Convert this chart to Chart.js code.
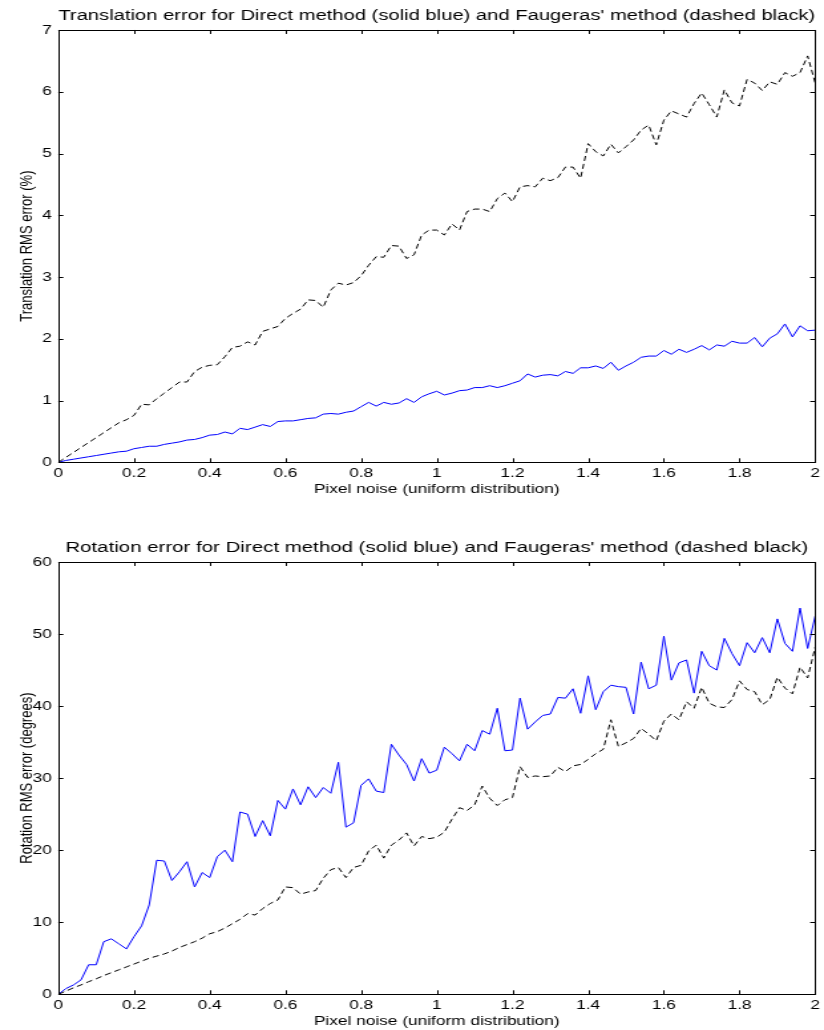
<!DOCTYPE html>
<html>
<head>
<meta charset="utf-8">
<script src="https://cdn.jsdelivr.net/npm/chart.js@4.4.1/dist/chart.umd.min.js"></script>
<style>
body { margin:0; background:#fff; overflow:hidden; width:824px; height:1030px; position:relative; }
.wrap { position:absolute; left:0; width:620px; height:500px; transform:scaleX(1.329); transform-origin:0 0; }
</style>
</head>
<body>
<div class="wrap" style="top:0px"><canvas id="transChart" width="620" height="500"></canvas></div>
<div class="wrap" style="top:532px"><canvas id="rotChart" width="620" height="500"></canvas></div>
<script>
const noise = [0,0.02,0.04,0.06,0.08,0.1,0.12,0.14,0.16,0.18,0.2,0.22,0.24,0.26,0.28,0.3,0.32,0.34,0.36,0.38,
0.4,0.42,0.44,0.46,0.48,0.5,0.52,0.54,0.56,0.58,0.6,0.62,0.64,0.66,0.68,0.7,0.72,0.74,0.76,0.78,
0.8,0.82,0.84,0.86,0.88,0.9,0.92,0.94,0.96,0.98,1,1.02,1.04,1.06,1.08,1.1,1.12,1.14,1.16,1.18,
1.2,1.22,1.24,1.26,1.28,1.3,1.32,1.34,1.36,1.38,1.4,1.42,1.44,1.46,1.48,1.5,1.52,1.54,1.56,1.58,
1.6,1.62,1.64,1.66,1.68,1.7,1.72,1.74,1.76,1.78,1.8,1.82,1.84,1.86,1.88,1.9,1.92,1.94,1.96,1.98,2];

const transDirect = [0,0.03,0.05,0.07,0.09,0.11,0.13,0.15,0.17,0.18,0.22,0.24,0.26,0.26,0.29,0.31,0.33,0.36,0.37,0.40,
0.44,0.45,0.49,0.46,0.55,0.53,0.57,0.61,0.58,0.66,0.67,0.67,0.69,0.71,0.72,0.78,0.79,0.78,0.81,0.83,
0.90,0.97,0.91,0.97,0.94,0.96,1.03,0.97,1.06,1.11,1.15,1.09,1.12,1.16,1.17,1.21,1.21,1.24,1.21,1.24,
1.28,1.32,1.43,1.38,1.41,1.42,1.40,1.47,1.44,1.53,1.53,1.56,1.52,1.62,1.49,1.56,1.62,1.70,1.72,1.72,
1.81,1.75,1.83,1.78,1.83,1.89,1.82,1.90,1.88,1.96,1.93,1.93,2.02,1.87,2.01,2.08,2.24,2.03,2.21,2.13,2.14];

const transFaug = [0,0.08,0.16,0.24,0.32,0.40,0.48,0.56,0.64,0.69,0.76,0.94,0.93,1.03,1.12,1.21,1.30,1.30,1.47,1.54,
1.57,1.58,1.71,1.86,1.88,1.95,1.90,2.12,2.16,2.20,2.33,2.41,2.48,2.63,2.62,2.51,2.79,2.90,2.87,2.91,
3.02,3.19,3.33,3.32,3.51,3.50,3.30,3.36,3.68,3.76,3.76,3.68,3.86,3.76,4.06,4.10,4.10,4.06,4.27,4.36,
4.22,4.46,4.48,4.46,4.60,4.56,4.61,4.78,4.78,4.60,5.16,5.03,4.96,5.15,5.01,5.11,5.22,5.38,5.46,5.14,
5.54,5.69,5.64,5.59,5.81,5.98,5.79,5.59,6.03,5.82,5.77,6.20,6.14,6.02,6.16,6.12,6.31,6.25,6.31,6.58,6.14];

const rotDirect = [0,0.8,1.3,2.0,4.1,4.1,7.3,7.7,7.0,6.3,8.0,9.5,12.4,18.6,18.5,15.8,17.0,18.4,14.9,16.9,
16.2,19.1,20.0,18.4,25.3,25.0,21.9,24.1,22.0,26.9,25.7,28.5,26.3,28.8,27.3,28.7,27.9,32.2,23.2,23.8,
29.0,29.9,28.2,28.0,34.7,33.2,31.9,29.6,32.7,30.7,31.1,34.3,33.4,32.4,34.7,33.8,36.6,36.1,39.7,33.8,
33.9,41.1,36.8,37.8,38.7,38.9,41.2,41.1,42.4,39.0,44.2,39.5,42.0,42.9,42.7,42.6,38.9,46.1,42.4,42.9,
49.7,43.6,46.0,46.4,41.8,47.6,45.6,45.0,49.4,47.3,45.6,48.8,47.4,49.5,47.4,52.1,48.7,47.6,53.6,48.0,52.5];

const rotFaug = [0,0.45,0.9,1.3,1.75,2.15,2.6,3.0,3.4,3.8,4.2,4.6,5.0,5.3,5.6,6.0,6.5,6.9,7.3,7.8,
8.4,8.7,9.2,9.8,10.4,11.2,11.0,11.9,12.6,13.1,14.9,14.8,13.9,14.2,14.4,16.1,17.3,17.6,16.2,17.6,
17.9,19.9,20.7,18.9,20.7,21.4,22.4,20.6,21.9,21.6,21.8,22.5,24.3,25.9,25.5,26.3,28.9,27.2,26.2,27.0,
27.3,31.6,30.1,30.3,30.2,30.3,31.5,30.9,31.7,31.9,32.6,33.4,34.0,38.1,34.4,34.9,35.5,36.9,36.1,35.2,
37.9,38.9,38.1,40.6,39.7,42.6,40.4,39.9,39.8,40.9,43.5,42.3,42.0,40.2,40.9,44.0,42.5,41.7,45.4,43.9,48.2];

const xTicks = [0,0.2,0.4,0.6,0.8,1,1.2,1.4,1.6,1.8,2];
const transTicks = [0,1,2,3,4,5,6,7];
const rotTicks = [0,10,20,30,40,50,60];

const font = "'Liberation Sans', Arial, sans-serif";

// box round the plot with ticks pointing inwards, like matlab
const frame = {
    id: 'frame',
    afterDraw(chart) {
        const ctx = chart.ctx;
        const a = chart.chartArea;
        const xs = chart.scales.x;
        const ys = chart.scales.y;
        ctx.save();
        ctx.strokeStyle = '#000';
        ctx.lineWidth = 1;
        ctx.strokeRect(Math.round(a.left) + 0.5, Math.round(a.top) + 0.5,
            Math.round(a.right) - Math.round(a.left), Math.round(a.bottom) - Math.round(a.top));
        ctx.beginPath();
        xs.ticks.forEach(t => {
            const px = Math.round(xs.getPixelForValue(t.value)) + 0.5;
            ctx.moveTo(px, a.bottom); ctx.lineTo(px, a.bottom - 4);
            ctx.moveTo(px, a.top); ctx.lineTo(px, a.top + 4);
        });
        ys.ticks.forEach(t => {
            const py = Math.round(ys.getPixelForValue(t.value)) + 0.5;
            ctx.moveTo(a.left, py); ctx.lineTo(a.left + 3.8, py);
            ctx.moveTo(a.right, py); ctx.lineTo(a.right - 3.8, py);
        });
        ctx.stroke();
        ctx.restore();
    }
};

function makeChart(id, title, yTitle, blue, black, yTicks) {
    return new Chart(document.getElementById(id), {
        type: 'line',
        data: {
            datasets: [
            {
                data: noise.map((x, i) => ({x: x, y: black[i]})),
                borderColor: '#000',
                borderWidth: 1,
                borderDash: [5, 3],
                pointRadius: 0,
                tension: 0
            },
            {
                data: noise.map((x, i) => ({x: x, y: blue[i]})),
                borderColor: 'rgb(0,0,255)',
                borderWidth: 1,
                pointRadius: 0,
                tension: 0
            }
            ]
        },
        options: {
            responsive: false,
            animation: false,
            layout: { padding: { left: 0, right: 2.5, top: 0, bottom: 0 } },
            plugins: {
                legend: { display: false },
                tooltip: { enabled: false },
                title: {
                    display: true,
                    text: title,
                    fullSize: false,
                    color: '#000',
                    font: { family: font, size: 15.4, weight: 'normal' },
                    padding: { top: 6.3, bottom: 5.2 }
                }
            },
            scales: {
                x: {
                    type: 'linear',
                    min: 0, max: 2,
                    grid: { display: false, drawTicks: false },
                    border: { display: false },
                    afterBuildTicks: s => { s.ticks = xTicks.map(v => ({value: v})); },
                    afterFit: s => { s.height = 37.7; },
                    ticks: {
                        color: '#000',
                        padding: 3,
                        maxRotation: 0,
                        font: { family: font, size: 13 },
                        callback: v => String(v)
                    },
                    title: {
                        display: true,
                        text: 'Pixel noise (uniform distribution)',
                        color: '#000',
                        font: { family: font, size: 13 },
                        padding: { top: 0, bottom: 2.5 }
                    }
                },
                y: {
                    min: yTicks[0], max: yTicks[yTicks.length - 1],
                    grid: { display: false, drawTicks: false },
                    border: { display: false },
                    afterBuildTicks: s => { s.ticks = yTicks.map(v => ({value: v})); },
                    afterFit: s => { s.width = 43.9; },
                    ticks: {
                        color: '#000',
                        padding: 5,
                        font: { family: font, size: 13 },
                        callback: v => String(v)
                    },
                    title: {
                        display: true,
                        text: yTitle,
                        color: '#000',
                        font: { family: font, size: 13 },
                        padding: { top: 12.2, bottom: 0 }
                    }
                }
            }
        },
        plugins: [frame]
    });
}

makeChart('transChart',
    "Translation error for Direct method (solid blue) and Faugeras' method (dashed black)",
    'Translation RMS error (%)', transDirect, transFaug, transTicks);

makeChart('rotChart',
    "Rotation error for Direct method (solid blue) and Faugeras' method (dashed black)",
    'Rotation RMS error (degrees)', rotDirect, rotFaug, rotTicks);
</script>
</body>
</html>
